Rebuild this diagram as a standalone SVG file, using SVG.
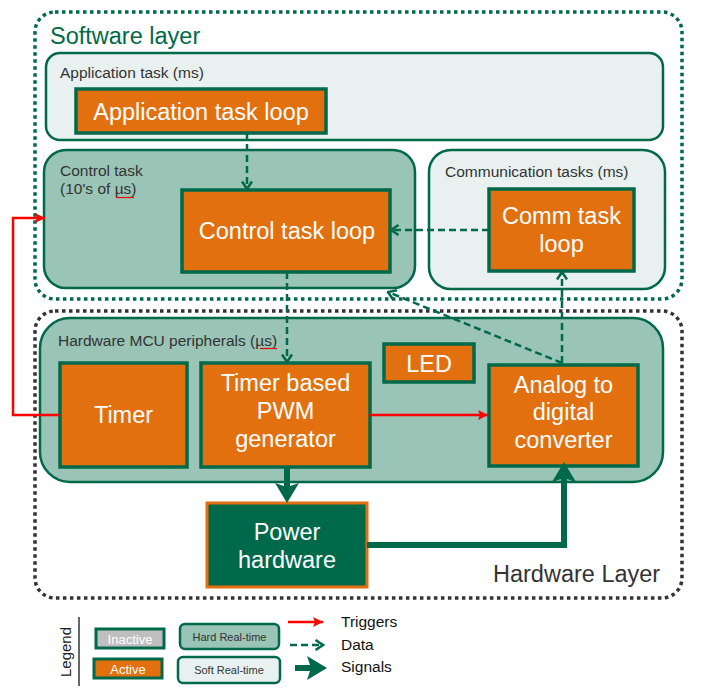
<svg xmlns="http://www.w3.org/2000/svg" width="715" height="693" viewBox="0 0 715 693">
<style>
text{font-family:"Liberation Sans",Arial,sans-serif}
.layerSw{fill:none;stroke:#00694a;stroke-width:3.5;stroke-dasharray:3.5 3.5}
.layerHw{fill:none;stroke:#333;stroke-width:3.5;stroke-dasharray:3.5 3.5}
.hard{fill:#99c4b6;stroke:#00694a;stroke-width:2.5}
.soft{fill:#e8f1ef;stroke:#00694a;stroke-width:2.5}
.act{fill:#e2700f;stroke:#00694a;stroke-width:3.5}
.inact{fill:#bfbfbf;stroke:#00694a;stroke-width:3}
.pw{fill:#00694a;stroke:#e2700f;stroke-width:3}
.nt{fill:#fff;font-size:23.5px;text-anchor:middle}
.lbl{fill:#333;font-size:15.5px}
.big{font-size:23.5px}
.data{fill:none;stroke:#00694a;stroke-width:2.5;stroke-dasharray:7 4;marker-end:url(#mData)}
.trig{fill:none;stroke:#f00;stroke-width:2.5;marker-end:url(#mTrig)}
.sig{fill:none;stroke:#00694a;stroke-width:6;marker-end:url(#mSig)}
.sq{stroke:#e00;stroke-width:1.2;fill:none}
</style>
<defs>
<marker id="mData" markerUnits="userSpaceOnUse" viewBox="0 0 12 12" markerWidth="12" markerHeight="12" refX="10.5" refY="6" orient="auto"><path d="M3,1 L10.5,6 L3,11" fill="none" stroke="#00694a" stroke-width="2.5"/></marker>
<marker id="mTrig" markerUnits="userSpaceOnUse" viewBox="0 0 12 12" markerWidth="12" markerHeight="12" refX="11" refY="6" orient="auto"><path d="M1,1 L11,6 L1,11 L3,6 Z" fill="#f00"/></marker>
<marker id="mSig" markerUnits="userSpaceOnUse" viewBox="0 0 22 24" markerWidth="22" markerHeight="24" refX="4" refY="12" orient="auto"><path d="M0,0 L20,12 L0,24 L4,12 Z" fill="#00694a"/></marker>
</defs>

<g id="software-layer">
<rect class="layerSw" x="35" y="12" width="647" height="287" rx="20"/>
<text x="50" y="44" class="big" fill="#00694a">Software layer</text>
</g>
<g id="hardware-layer">
<rect class="layerHw" x="35" y="311" width="647" height="287" rx="20"/>
<text x="493" y="582" class="big" fill="#333">Hardware Layer</text>
</g>

<g id="application-task">
<rect class="soft" x="46" y="53" width="617" height="87" rx="14"/>
<text x="60" y="78" class="lbl">Application task (ms)</text>
</g>
<g id="application-task-loop">
<rect class="act" x="76" y="89" width="250" height="44"/>
<text x="201" y="120" class="nt">Application task loop</text>
</g>

<g id="control-task">
<rect class="hard" x="44" y="150" width="371" height="138" rx="22"/>
<text x="60" y="176" class="lbl">Control task</text>
<text x="60" y="194" class="lbl">(10's of µs)</text>
<path class="sq" d="M116,197.5 H134"/>
</g>
<g id="control-task-loop">
<rect class="act" x="182" y="190" width="208" height="82"/>
<text x="287" y="239" class="nt">Control task loop</text>
</g>

<g id="communication-tasks">
<rect class="soft" x="429" y="150" width="236" height="139" rx="22"/>
<text x="445" y="177" class="lbl">Communication tasks (ms)</text>
</g>
<g id="comm-task-loop">
<rect class="act" x="489" y="189" width="145" height="82"/>
<text x="561.5" y="224" class="nt">Comm task</text>
<text x="561.5" y="252" class="nt">loop</text>
</g>

<g id="hardware-mcu-peripherals">
<rect class="hard" x="40" y="318" width="623" height="164" rx="30"/>
<text x="58" y="346" class="lbl">Hardware MCU peripherals (µs)</text>
<path class="sq" d="M260,348.5 H277"/>
</g>
<g id="timer">
<rect class="act" x="60" y="363" width="127" height="104"/>
<text x="123.5" y="423" class="nt">Timer</text>
</g>
<g id="pwm-generator">
<rect class="act" x="201" y="363" width="169" height="104"/>
<text x="285.5" y="391" class="nt">Timer based</text>
<text x="285.5" y="419" class="nt">PWM</text>
<text x="285.5" y="447" class="nt">generator</text>
</g>
<g id="led">
<rect class="act" x="384" y="344" width="90" height="38"/>
<text x="429" y="372" class="nt">LED</text>
</g>
<g id="adc">
<rect class="act" x="489" y="365" width="149" height="101"/>
<text x="563.5" y="393" class="nt">Analog to</text>
<text x="563.5" y="420" class="nt">digital</text>
<text x="563.5" y="448" class="nt">converter</text>
</g>
<g id="power-hardware">
<rect class="pw" x="207" y="503" width="160" height="84"/>
<text x="287" y="540" class="nt">Power</text>
<text x="287" y="568" class="nt">hardware</text>
</g>

<g id="connectors">
<path class="data" d="M247,133 V189"/>
<path class="data" d="M489,230 H391"/>
<path class="data" d="M287,272 V362"/>
<path class="data" d="M562,363 V272"/>
<path class="data" d="M562,363 L388,292"/>
<path class="trig" d="M60,415 H13 V218 H45"/>
<path class="trig" d="M370,415 H488"/>
<path class="sig" d="M287,467 V487"/>
<path class="sig" d="M367,545 H564 V478"/>
</g>

<g id="legend">
<path d="M79,617 V686" stroke="#333" stroke-width="1.5"/>
<text transform="translate(71,652) rotate(-90)" text-anchor="middle" font-size="15" fill="#222">Legend</text>
<rect class="inact" x="96" y="629" width="68" height="19"/>
<text x="130" y="643.5" fill="#fff" font-size="13" text-anchor="middle">Inactive</text>
<rect class="act" x="94" y="659" width="68" height="19" style="stroke-width:3"/>
<text x="128" y="673.5" fill="#fff" font-size="13" text-anchor="middle">Active</text>
<rect class="hard" x="180" y="624" width="99" height="25" rx="5"/>
<text x="229.5" y="640.5" fill="#333" font-size="11" text-anchor="middle">Hard Real-time</text>
<rect class="soft" x="178" y="657" width="102" height="26" rx="5"/>
<text x="229" y="674" fill="#333" font-size="11" text-anchor="middle">Soft Real-time</text>
<path class="trig" d="M288,622 H323"/>
<path class="data" d="M290,645 H323"/>
<path class="sig" d="M295,668 H311"/>
<text x="341" y="627" class="lbl" style="fill:#111">Triggers</text>
<text x="341" y="650" class="lbl" style="fill:#111">Data</text>
<text x="341" y="672" class="lbl" style="fill:#111">Signals</text>
</g>
</svg>
